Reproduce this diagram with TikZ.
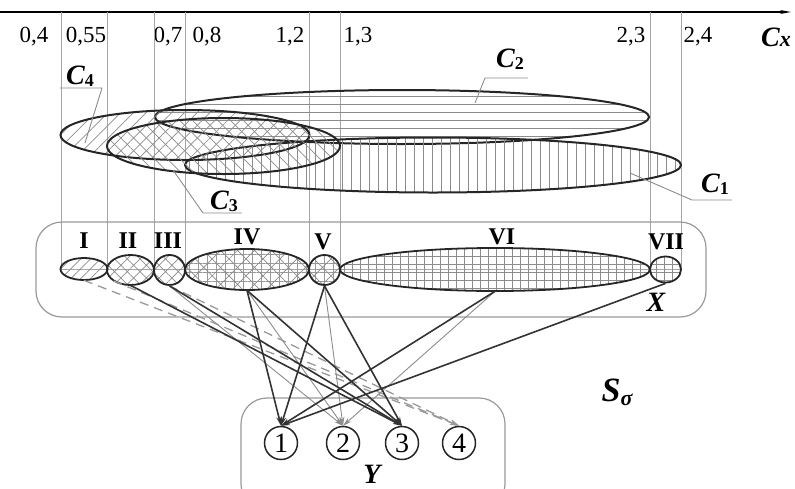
\documentclass[tikz,border=0pt]{standalone}
\usepackage{fontspec}
\setmainfont{Liberation Serif}
\usetikzlibrary{shapes.geometric,patterns.meta,arrows.meta,positioning}

\newcommand{\Cidx}[1]{C{\fontsize{18}{18}\selectfont\upshape\raisebox{-2pt}{#1}}}

\tikzset{
  hilfslinie/.style={draw=black!35, line width=1pt},
  leitlinie/.style={draw=black!45, line width=0.9pt},
  menge/.style={ellipse, draw=black!85, line width=2pt, inner sep=0pt, pattern color=black!45},
  element/.style={menge, line width=1.8pt},
  kreis/.style={circle, draw=black!85, line width=1.5pt, minimum size=33pt, inner sep=0pt,
    font=\fontsize{28}{28}\selectfont},
  zahl/.style={font=\fontsize{23}{23}\selectfont},
  roemisch/.style={font=\fontsize{24}{24}\selectfont\bfseries},
  gross/.style={font=\fontsize{28}{28}\selectfont\bfseries\itshape},
  rahmen/.style={draw=black!40, line width=1.2pt, rounded corners=26pt},
  pfeil/.style={-{Stealth[length=9pt,width=5pt]}, draw=black!80, line width=1.6pt},
  pfeilgrau/.style={-{Stealth[length=9pt,width=5pt]}, draw=black!45, line width=0.9pt},
  pfeilstrich/.style={-{Stealth[length=9pt,width=5pt]}, draw=black!40, line width=1.3pt,
    dash pattern=on 9pt off 6pt},
}

\begin{document}
\begin{tikzpicture}[x=1pt, y=-1pt]

  \useasboundingbox (0,0) rectangle (795,488);

  % Achse Cx
  \draw[-{Stealth[length=11pt,width=4pt]}, line width=1.4pt] (0,12) -- (791,12);
  \foreach \xt/\txt in {34/{0,4}, 86/{0,55}, 168/{0,7}, 207/{0,8}, 290/{1,2},
                        358/{1,3}, 631/{2,3}, 698/{2,4}} {
      \node[zahl] (t\xt) at (\xt,37) {\txt};
    }
  \node[gross] (cx) at (776,37) {C{\fontsize{22}{22}\selectfont x}};

  % senkrechte Hilfslinien bis zur Mittellinie
  \foreach \xl in {61,107,154,185,309,340,650,681} {
      \draw[hilfslinie] (\xl,12) -- (\xl,269);
    }
  \draw[hilfslinie] (61,269) -- (681,269);

  % Mengen C1 ... C4 (schraffiert)
  \node[menge, minimum width=494pt, minimum height=54pt,
    pattern={Lines[angle=0,distance=8pt,line width=0.7pt]}] (c2) at (402,117) {};
  \node[menge, minimum width=496pt, minimum height=55pt,
    pattern={Lines[angle=90,distance=9pt,line width=0.7pt]}] (c1) at (433,165) {};
  \node[menge, minimum width=249pt, minimum height=50pt,
    pattern={Lines[angle=45,distance=9pt,line width=0.7pt]}] (c4) at (185,135) {};
  \node[menge, minimum width=233pt, minimum height=56pt,
    pattern={Lines[angle=-45,distance=9pt,line width=0.7pt]}] (c3) at (223.5,146) {};

  % Beschriftung mit Leitlinien
  \node[gross] (lc4) at (80,76) {\Cidx{4}};
  \draw[leitlinie] (85,143) -- (102,88) -- (60,88);
  \node[gross] (lc2) at (510,59) {\Cidx{2}};
  \draw[leitlinie] (475,103) -- (485,78) -- (528,78);
  \node[gross] (lc3) at (224,201) {\Cidx{3}};
  \draw[leitlinie] (173,170) -- (203,213) -- (242,213);
  \node[gross] (lc1) at (715,184) {\Cidx{1}};
  \draw[leitlinie] (630,173) -- (692,200) -- (732,200);

  % Menge X
  \draw[rahmen] (36,222) rectangle (706,317);
  \node[element, minimum width=47pt, minimum height=22pt,
    pattern={Lines[angle=45,distance=7pt,line width=0.7pt]}] (rI) at (84,269) {};
  \node[element, minimum width=47pt, minimum height=30pt,
    pattern={Hatch[angle=45,distance=9pt,line width=0.7pt]}] (rII) at (130.5,270) {};
  \node[element, minimum width=31pt, minimum height=30pt,
    pattern={Hatch[angle=45,distance=9pt,line width=0.7pt]}] (rIII) at (169.5,270) {};
  \node[element, minimum width=124pt, minimum height=41pt,
    preaction={pattern={Hatch[angle=0,distance=9pt,line width=0.6pt]}, pattern color=black!40},
    pattern={Hatch[angle=45,distance=12pt,line width=0.7pt]}] (rIV) at (247,269.5) {};
  \node[element, minimum width=31pt, minimum height=30pt,
    preaction={pattern={Hatch[angle=0,distance=9pt,line width=0.6pt]}, pattern color=black!40},
    pattern={Hatch[angle=45,distance=12pt,line width=0.7pt]}] (rV) at (324.5,270) {};
  \node[element, minimum width=310pt, minimum height=43pt,
    pattern={Hatch[angle=0,distance=8pt,line width=0.6pt]}] (rVI) at (495,269.5) {};
  \node[element, minimum width=31pt, minimum height=26pt,
    pattern={Hatch[angle=0,distance=8pt,line width=0.6pt]}] (rVII) at (665.5,269.5) {};

  \node[roemisch] (lI) at (84,241) {I};
  \node[roemisch] (lII) at (128,241) {II};
  \node[roemisch] (lIII) at (168,241) {III};
  \node[roemisch] (lIV) at (247,237) {IV};
  \node[roemisch] (lV) at (323,242) {V};
  \node[roemisch] (lVI) at (502,237) {VI};
  \node[roemisch] (lVII) at (666,242) {VII};
  \node[gross] (lx) at (656,302) {X};

  % Menge Y
  \draw[rahmen] (241,398) rectangle (505,510);
  \node[kreis] (n1) at (281,443) {1};
  \node[kreis] (n2) at (343,443) {2};
  \node[kreis] (n3) at (402,443) {3};
  \node[kreis] (n4) at (459,443) {4};
  \node[gross] (ly) at (372,474) {Y};

  \node[font=\fontsize{34}{34}\selectfont\bfseries\itshape] (ls) at (617,392)
    {S{\fontsize{22}{22}\selectfont\raisebox{-4pt}{σ}}};

  % Zuordnungen X -> Y
  \draw[pfeilstrich] (rI.south) -- (n4.north);
  \draw[pfeilstrich] (rII.south west) -- (n4.north);
  \draw[pfeilstrich] (rIII.south) -- (n4.north);
  \draw[pfeilgrau] (rIII.south) -- (n2.north);
  \draw[pfeilgrau] (rIV.south) -- (n2.north);
  \draw[pfeilgrau] (rV.south) -- (n2.north);
  \draw[pfeilgrau] (rVI.south) -- (n2.north);
  \draw[pfeil] (rII.south) -- (n3.north);
  \draw[pfeil] (rIII.south) -- (n3.north);
  \draw[pfeil] (rIV.south) -- (n3.north);
  \draw[pfeil] (rV.south) -- (n3.north);
  \draw[pfeil] (rIV.south) -- (n1.north);
  \draw[pfeil] (rV.south) -- (n1.north);
  \draw[pfeil] (rVI.south) -- (n1.north);
  \draw[pfeil] (rVII.south) -- (n1.north);

\end{tikzpicture}
\end{document}
